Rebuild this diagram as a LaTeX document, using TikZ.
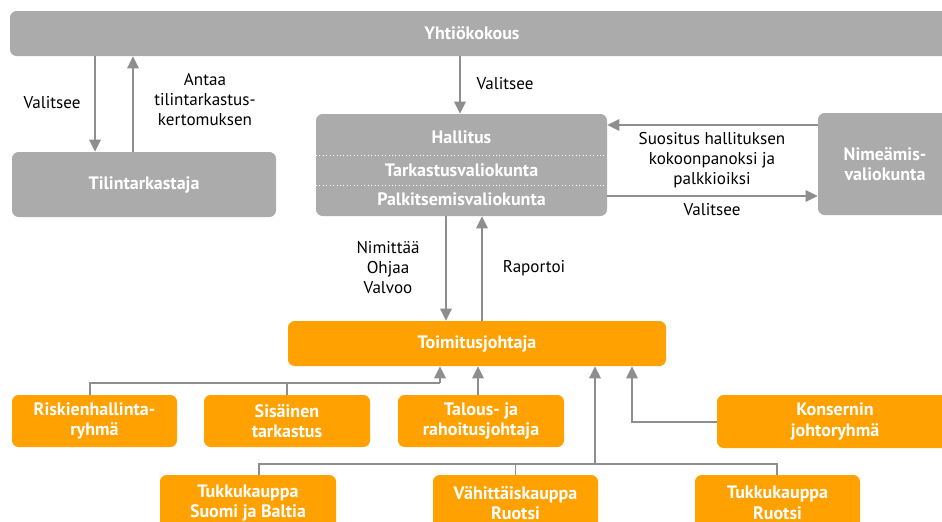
\documentclass[tikz,border=0pt]{standalone}
\usepackage{fontspec}
\setmainfont{PT Sans}
\usetikzlibrary{arrows.meta}
\definecolor{boxgray}{HTML}{ABABAB}
\definecolor{boxorange}{HTML}{FFA100}
\definecolor{linegray}{HTML}{8E8E8E}
\tikzset{
  graybox/.style={fill=boxgray, rounded corners=5pt, inner sep=0pt, draw=none},
  orangebox/.style={fill=boxorange, rounded corners=5pt, inner sep=0pt, draw=none, text=white, font=\fontsize{13.5}{15.5}\selectfont\bfseries, align=center},
  boxtext/.style={text=white, font=\fontsize{13.5}{15.5}\selectfont\bfseries, align=center, inner sep=0pt},
  lbl/.style={font=\fontsize{12.8}{14.8}\selectfont, align=center, inner sep=0pt, text=black},
  arr/.style={draw=linegray, line width=1.5pt, -{Triangle[length=9pt,width=8.5pt]}},
  conn/.style={draw=linegray, line width=1.3pt},
}
\begin{document}
\begin{tikzpicture}[x=0.75pt,y=-0.75pt]
\useasboundingbox (0,0) rectangle (942,521);
\clip (0,0) rectangle (942,521);
% top bar
\node[graybox, minimum width=950*0.75pt, minimum height=45*0.75pt] (yk) at (485,33.5) {};
\node[boxtext] (yklab) at (472,33.5) {Yhtiökokous};
% tilintarkastaja
\node[graybox, boxtext, minimum width=264*0.75pt, minimum height=65*0.75pt, fill=boxgray, rounded corners=5pt] (tt) at (144,184.5) {Tilintarkastaja};
% hallitus
\node[graybox, minimum width=291*0.75pt, minimum height=102*0.75pt] (hal) at (461.5,165) {};
\draw[white, dotted, line width=0.6pt] (hal.west |- 0,155) -- (hal.east |- 0,155);
\draw[white, dotted, line width=0.6pt] (hal.west |- 0,185) -- (hal.east |- 0,185);
\node[boxtext] (hal1) at (461.5,137) {Hallitus};
\node[boxtext] (hal2) at (461.5,170) {Tarkastusvaliokunta};
\node[boxtext] (hal3) at (461.5,199) {Palkitsemisvaliokunta};
% nimeamis
\node[graybox, boxtext, minimum width=134*0.75pt, minimum height=102*0.75pt, fill=boxgray, rounded corners=5pt] (nv) at (885,164) {Nimeämis-\\valiokunta};
% toimitusjohtaja
\node[orangebox, minimum width=378*0.75pt, minimum height=45*0.75pt] (tj) at (477,343.5) {Toimitusjohtaja};
% row 2
\node[orangebox, minimum width=165*0.75pt, minimum height=52*0.75pt] (rh) at (94.5,421) {Riskienhallinta-\\ryhmä};
\node[orangebox, minimum width=166*0.75pt, minimum height=52*0.75pt] (st) at (287,421) {Sisäinen\\tarkastus};
\node[orangebox, minimum width=166*0.75pt, minimum height=52*0.75pt] (tr) at (481,421) {Talous- ja\\rahoitusjohtaja};
\node[orangebox, minimum width=236*0.75pt, minimum height=53*0.75pt] (kj) at (835,421.5) {Konsernin\\johtoryhmä};
% row 3
\node[orangebox, minimum width=176*0.75pt, minimum height=56*0.75pt] (t1) at (248,503) {Tukkukauppa\\Suomi ja Baltia};
\node[orangebox, minimum width=165*0.75pt, minimum height=56*0.75pt] (t2) at (515.5,503) {Vähittäiskauppa\\Ruotsi};
\node[orangebox, minimum width=165*0.75pt, minimum height=56*0.75pt] (t3) at (777.5,503) {Tukkukauppa\\Ruotsi};
% labels
\node[lbl] (l1) at (52,103) {Valitsee};
\node[lbl] (l2) at (205,99.5) {Antaa\\tilintarkastus-\\kertomuksen};
\node[lbl] (l3) at (505,84) {Valitsee};
\node[lbl] (l4) at (712,160) {Suositus hallituksen\\kokoonpanoksi ja\\palkkioiksi};
\node[lbl] (l5) at (712,210) {Valitsee};
\node[lbl] (l6) at (388,267.5) {Nimittää\\Ohjaa\\Valvoo};
\node[lbl] (l7) at (534,268) {Raportoi};
% arrows top
\draw[arr] (yk.south -| 95,0) -- (tt.north -| 95,0);
\draw[arr] (tt.north -| 133,0) -- (yk.south -| 133,0);
\draw[arr] (yk.south -| 460,0) -- (hal.north -| 460,0);
\draw[arr] (nv.west |- 0,125) -- (hal.east |- 0,125);
\draw[arr] (hal.east |- 0,196) -- (nv.west |- 0,196);
\draw[arr] (hal.south -| 446,0) -- (tj.north -| 446,0);
\draw[arr] (tj.north -| 482,0) -- (hal.south -| 482,0);
% row 2 connectors
\coordinate (c1) at (90,383);
\coordinate (c2) at (440,383);
\draw[conn] (rh.north -| c1) -- (c1) -- (c2);
\draw[conn] (st.north) -- (st.north |- c1);
\draw[arr, line width=1.3pt] (c2) -- (tj.south -| c2);
\draw[arr, line width=1.3pt] (tr.north -| 478,0) -- (tj.south -| 478,0);
\coordinate (c3) at (632,422);
\draw[arr, line width=1.3pt] (kj.west |- c3) -- (c3) -- (tj.south -| c3);
% row 3 connectors
\coordinate (d1) at (259,464);
\coordinate (d3) at (777,464);
\coordinate (d2) at (595,464);
\draw[conn] (t1.north -| d1) -- (d1) -- (d3) -- (t3.north -| d3);
\draw[conn] (t2.north) -- (t2.north |- d1);
\draw[arr, line width=1.3pt] (d2) -- (tj.south -| d2);
\end{tikzpicture}
\end{document}
